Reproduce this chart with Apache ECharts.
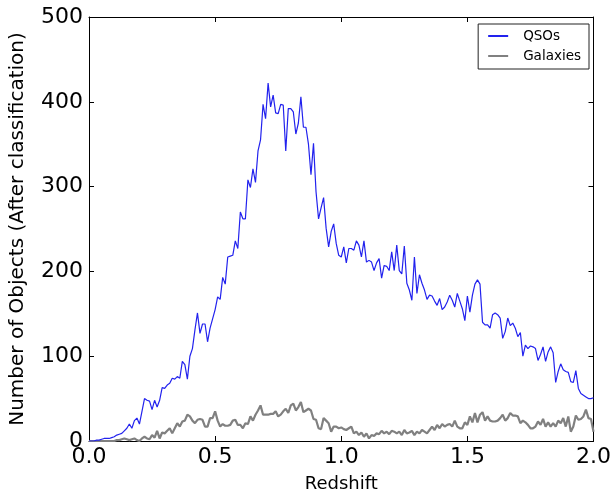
<!DOCTYPE html>
<html>
<head>
<meta charset="utf-8">
<script src="https://cdn.jsdelivr.net/npm/echarts@6/dist/echarts.min.js"></script>
<style>html,body{margin:0;padding:0;background:#fff}#c{width:614px;height:499px}</style>
</head>
<body>
<div id="c"></div>
<script>
// Redshift bins: 0.00 .. 2.00 step 0.01
const binStart = 0.0;
const binStep = 0.01;
const qsoCounts = [
0,0,0,1,1,2,3,3,3,4,
5,7,8,9,12,15,20,15,24,27,
20,35,50,48,47,37,48,40,48,63,
62,66,68,74,73,76,74,94,90,73,
100,109,131,151,127,138,138,117,133,144,
155,170,167,193,185,217,218,219,236,227,
270,262,262,308,299,321,305,342,355,397,
380,422,394,408,387,386,397,396,342,392,
392,388,362,375,406,370,370,350,314,351,
294,262,275,287,251,229,247,256,233,219,
217,229,210,227,227,225,236,231,217,236,
211,213,211,201,210,215,192,207,206,201,
223,201,231,201,197,230,186,178,166,217,
174,196,186,178,167,172,171,165,160,168,
155,158,164,172,166,158,174,165,156,142,
171,152,172,185,190,185,140,137,137,133,
149,151,149,145,121,129,145,136,139,133,
123,128,100,113,109,112,111,109,95,102,
111,94,105,111,104,69,82,91,84,82,
81,70,69,83,62,56,54,52,50,50,
51
];
const galaxyCounts = [
0,0,0,0,0,0,0,0,0,0,
0,1,1,2,3,2,1,2,3,1,
0,3,5,3,2,7,4,12,3,10,
9,12,15,9,15,21,17,23,24,31,
29,24,21,25,26,25,17,17,27,27,
35,24,17,20,18,18,19,24,25,19,
19,15,21,20,29,24,31,36,42,31,
31,31,32,32,35,29,31,35,38,33,
42,44,36,40,46,34,36,38,36,26,
25,15,14,27,24,21,11,17,17,15,
16,14,13,15,17,9,11,7,10,5,
9,3,7,6,9,8,12,9,11,8,
12,11,9,11,7,13,9,10,12,7,
11,9,13,11,9,13,17,13,19,15,
20,17,19,20,17,24,17,15,15,22,
19,29,22,33,22,31,34,24,29,24,
23,23,24,27,31,24,27,33,30,30,
29,21,24,22,19,15,15,17,23,19,
26,17,22,17,21,17,24,21,27,17,
29,11,17,30,25,26,29,37,27,26,
11
];
const seriesNames = ['QSOs', 'Galaxies'];
const xTicks = [0.0, 0.5, 1.0, 1.5, 2.0];
const yTicks = [0, 100, 200, 300, 400, 500];

function pairs(arr) {
  return arr.map((v, i) => [+(binStart + i * binStep).toFixed(2), v]);
}

const chart = echarts.init(document.getElementById('c'), null, {renderer: 'canvas'});
const font = 'DejaVu Sans';
const frame = {show: true, onZero: false, lineStyle: {color: '#000', width: 1}};
const tickIn = {show: true, inside: true, length: 5, lineStyle: {color: '#000', width: 1}};
chart.setOption({
  animation: false,
  backgroundColor: '#fff',
  grid: {left: 89, right: 18, top: 17, bottom: 58, containLabel: false},
  legend: {
    orient: 'vertical',
    right: 25, top: 24,
    padding: [5, 8, 6, 9],
    itemGap: 6,
    itemWidth: 20, itemHeight: 10,
    borderColor: '#222', borderWidth: 1, borderRadius: 0,
    backgroundColor: '#fff',
    itemStyle: {color: 'transparent', borderWidth: 0, opacity: 0},
    textStyle: {fontFamily: font, fontSize: 13.5, color: '#000', padding: [0, 0, 0, 10]},
    data: seriesNames
  },
  xAxis: [{
    type: 'value', min: 0, max: 2, interval: 0.5,
    name: 'Redshift', nameLocation: 'middle', nameGap: 34,
    nameTextStyle: {fontFamily: font, fontSize: 18, color: '#000'},
    axisLine: frame, axisTick: tickIn, splitLine: {show: false},
    axisLabel: {fontFamily: font, fontSize: 22, color: '#000', margin: 5,
      formatter: v => xTicks.includes(v) ? v.toFixed(1) : ''}
  }, {
    type: 'value', min: 0, max: 2, interval: 0.5, position: 'top',
    axisLine: frame, axisTick: tickIn, splitLine: {show: false}, axisLabel: {show: false}
  }],
  yAxis: [{
    type: 'value', min: 0, max: 500, interval: 100,
    name: 'Number of Objects (After classification)', nameLocation: 'middle', nameGap: 61,
    nameTextStyle: {fontFamily: font, fontSize: 20, color: '#000'},
    axisLine: frame, axisTick: tickIn, splitLine: {show: false},
    axisLabel: {fontFamily: font, fontSize: 22, color: '#000', margin: 6,
      formatter: v => yTicks.includes(v) ? String(v) : ''}
  }, {
    type: 'value', min: 0, max: 500, interval: 100, position: 'right',
    axisLine: frame, axisTick: tickIn, splitLine: {show: false}, axisLabel: {show: false}
  }],
  series: [{
    name: seriesNames[0], type: 'line', data: pairs(qsoCounts),
    showSymbol: false, symbol: 'none',
    lineStyle: {color: '#2222ee', width: 1.2}, itemStyle: {color: '#2222ee'}, z: 3
  }, {
    name: seriesNames[1], type: 'line', data: pairs(galaxyCounts),
    showSymbol: false, symbol: 'none',
    lineStyle: {color: '#808080', width: 2.2}, itemStyle: {color: '#808080'}, z: 2
  }]
});
</script>
</body>
</html>
